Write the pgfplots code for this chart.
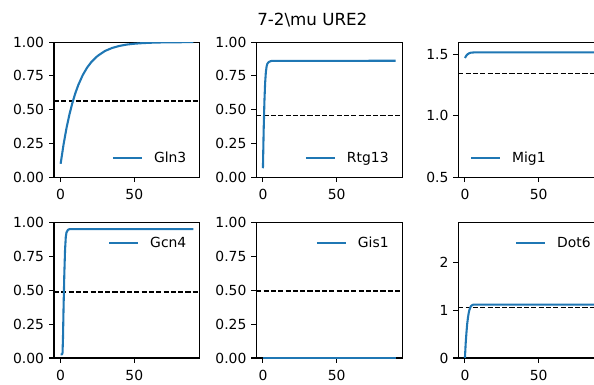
\documentclass[border=0pt]{standalone}
\usepackage{fontspec}
\setmainfont{DejaVu Sans}
\usepackage{pgfplots}
\pgfplotsset{compat=1.18}
\definecolor{mplblue}{HTML}{1F77B4}
\newcommand{\tickfont}{\fontsize{13.9}{16}\selectfont}
\pgfplotsset{
  panel/.style={
    scale only axis, width=145.9pt, height=135.2pt, anchor=south west,
    xmin=-4.5, xmax=94.5, xtick={0,50}, xticklabels={0,50},
    axis line style={line width=1.11pt},
    every tick/.style={black, line width=1.11pt},
    major tick length=4.86pt, tick align=outside, tick pos=left,
    tick label style={font=\tickfont, inner sep=0pt, text height=10.1pt, text depth=0pt},
    xticklabel style={anchor=north, yshift=-7.1pt},
    yticklabel style={anchor=east, xshift=-4.85pt},
    legend style={draw=none, fill=none, inner sep=0pt, outer sep=0pt, font=\tickfont,
      nodes={inner sep=0pt, text height=10.1pt, text depth=0pt},
      /tikz/every odd column/.append style={column sep=11pt}},
    legend cell align=left,
    legend image code/.code={\draw[##1] (0pt,0pt) -- (29pt,0pt);},
  },
  curve/.style={mplblue, line width=2.08pt, line join=round},
  refl/.style={black, line width=1.5pt, dash pattern=on 5.1pt off 2.2pt, forget plot},
}
\begin{document}
\begin{tikzpicture}
% Gln3
\begin{axis}[panel, at={(54pt,206.7pt)}, ymin=0, ymax=1,
  ytick={0,0.25,0.5,0.75,1}, yticklabels={0.00,0.25,0.50,0.75,1.00},
  legend style={at={(1,0)}, anchor=south east, xshift=-13.6pt, yshift=14.6pt}]
\addplot[refl] coordinates {(-4.5,0.565) (94.5,0.565)};
\addplot[curve] coordinates {(0,0.100) (2,0.244) (4,0.365) (6,0.466) (8,0.551) (10,0.623) (12,0.683) (15,0.756) (18,0.812) (21,0.855) (25,0.897) (30,0.934) (35,0.957) (40,0.972) (45,0.982) (50,0.988) (55,0.992) (60,0.995) (70,0.998) (80,0.999) (90,1.000)};
\addlegendentry{Gln3}
\end{axis}
% Rtg13
\begin{axis}[panel, at={(256.3pt,206.7pt)}, ymin=0, ymax=1,
  ytick={0,0.25,0.5,0.75,1}, yticklabels={0.00,0.25,0.50,0.75,1.00},
  legend style={at={(1,0)}, anchor=south east, xshift=-13.6pt, yshift=14.6pt}]
\addplot[refl] coordinates {(-4.5,0.458) (94.5,0.458)};
\addplot[curve] coordinates {(0,0.067) (0.5,0.35) (1,0.56) (1.5,0.70) (2,0.78) (2.5,0.82) (3,0.84) (4,0.853) (5,0.858) (6,0.861) (90,0.862)};
\addlegendentry{Rtg13}
\end{axis}
% Mig1
\begin{axis}[panel, at={(458.3pt,206.7pt)}, ymin=0.5, ymax=1.597,
  ytick={0.5,1,1.5}, yticklabels={0.5,1.0,1.5},
  legend style={at={(0,0)}, anchor=south west, xshift=11.7pt, yshift=14.6pt}]
\addplot[refl] coordinates {(-4.5,1.343) (94.5,1.343)};
\addplot[curve] coordinates {(0,1.468) (1,1.488) (2,1.500) (3,1.507) (4,1.511) (6,1.513) (90,1.513)};
\addlegendentry{Mig1}
\end{axis}
% Gcn4
\begin{axis}[panel, at={(54pt,26pt)}, ymin=0, ymax=1,
  ytick={0,0.25,0.5,0.75,1}, yticklabels={0.00,0.25,0.50,0.75,1.00},
  legend style={at={(1,1)}, anchor=north east, xshift=-13.6pt, yshift=-15pt}]
\addplot[refl] coordinates {(-4.5,0.488) (94.5,0.488)};
\addplot[curve] coordinates {(0,0.027) (1,0.027) (1.3,0.04) (1.6,0.15) (2,0.38) (2.5,0.62) (3,0.80) (3.5,0.895) (4,0.93) (5,0.948) (6,0.953) (90,0.953)};
\addlegendentry{Gcn4}
\end{axis}
% Gis1
\begin{axis}[panel, at={(256.3pt,26pt)}, ymin=0, ymax=1,
  ytick={0,0.25,0.5,0.75,1}, yticklabels={0.00,0.25,0.50,0.75,1.00},
  legend style={at={(1,1)}, anchor=north east, xshift=-13.6pt, yshift=-15pt}]
\addplot[refl] coordinates {(-4.5,0.495) (94.5,0.495)};
\addplot[curve] coordinates {(0,0) (90,0)};
\addlegendentry{Gis1}
\end{axis}
% Dot6
\begin{axis}[panel, at={(458.3pt,26pt)}, ymin=0, ymax=2.82,
  ytick={0,1,2}, yticklabels={0,1,2},
  legend style={at={(1,1)}, anchor=north east, xshift=-13.6pt, yshift=-15pt}]
\addplot[refl] coordinates {(-4.5,1.058) (94.5,1.058)};
\addplot[curve] coordinates {(0,0) (0.5,0.30) (1,0.52) (1.5,0.70) (2,0.83) (2.5,0.93) (3,1.00) (4,1.08) (5,1.105) (6,1.115) (90,1.115)};
\addlegendentry{Dot6}
\end{axis}
\node[anchor=base, font=\fontsize{16.7}{20}\selectfont] at (312.3pt,359pt) {7-2\textbackslash mu URE2};
\pgfresetboundingbox
\useasboundingbox (0,0) rectangle (594pt,384pt);
\end{tikzpicture}
\end{document}
